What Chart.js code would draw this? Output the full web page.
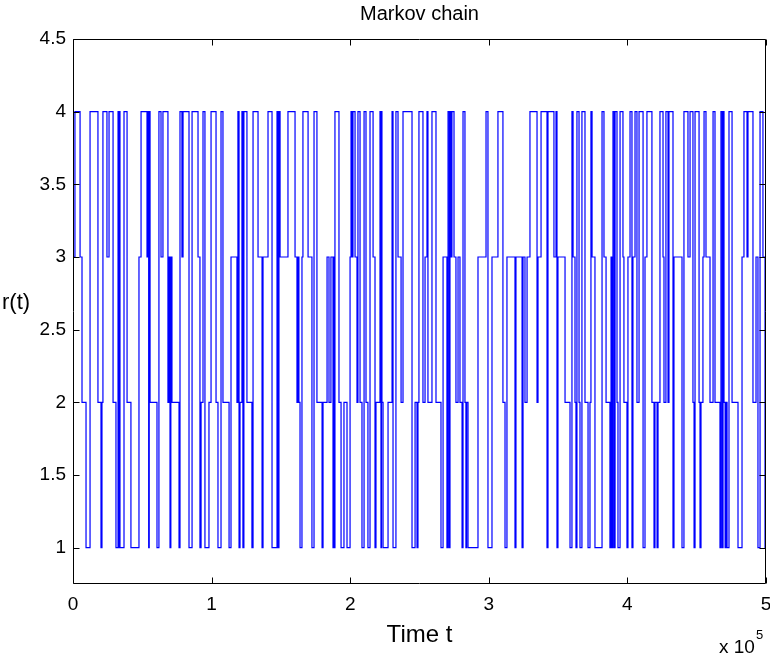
<!DOCTYPE html>
<html>
<head>
<meta charset="utf-8">
<script src="https://cdn.jsdelivr.net/npm/chart.js@4/dist/chart.umd.min.js"></script>
<style>
html,body{margin:0;padding:0;background:#fff;}
#wrap{width:770px;height:654px;position:relative;}
</style>
</head>
<body>
<div id="wrap"><canvas id="c" width="770" height="654"></canvas></div>
<script>
// Time instants (t) where the chain jumps, and the state entered at that instant
const times = [
0,1400,5100,6500,9400,12300,18000,20200,20900,21600,24500,26000,28900,31000,32500,32900,33200,33500,33900,36800,39000,41800,47600,49100,53400,54100,54600,55000,55600,60600,62000,63500,64900,68500,69300,70000,70600,71400,76500,77200,78600,79400,83700,
85900,90200,91600,92400,93800,95200,98100,99600,103200,104600,106800,108200,112600,114000,118300,119000,119800,120500,121900,122600,123300,125500,129100,129900,133500,136400,137100,140700,143600,147200,148000,148600,149400,155100,160200,161600,162300,163000,163800,
165200,165900,169600,172400,173900,176000,179700,180400,183300,184700,186100,187600,188200,188600,189000,191900,193400,195500,197700,199900,200600,201300,202000,203500,204900,205600,207100,208500,210000,211400,212800,214300,216500,217900,218600,221500,222200,222600,222900,223700,227300,230200,230900,233000,234500,236700,238100,244600,246800,248200,248900,
249600,252500,254000,255400,256100,259000,261900,265500,267000,269800,270600,271500,272000,272700,273400,274900,276300,277800,279200,280700,281400,282800,283500,284000,285000,292200,298000,299400,302300,306600,310200,311700,313100,318900,319600,324000,324700,326100,327600,329700,
334800,335500,337700,342000,342700,347000,348500,349200,349900,355000,358600,360000,360800,362200,362900,363600,365100,365800,367200,369400,371600,373000,373700,374500,376600,381700,383100,384600,387400,388200,388900,389600,390500,391100,392500,393200,394700,396800,397500,399700,400400,401900,403300,404000,405500,406900,408400,411300,412700,414100,
417700,419200,419900,421400,422100,423500,425700,426400,427800,429300,430000,432900,433600,439400,440800,443700,445200,447300,448100,448800,451700,452400,453100,454500,455300,456700,459600,461800,463200,466800,467500,468400,469000,469700,470500,471200,471900,473300,475500,479800,482700,484100,486300,487000,490600,492800,494200,495700,497800,499300,500000
];
const states = [
3,4,3,2,1,4,2,1,2,4,3,4,2,1,4,1,3,4,1,4,2,1,3,4,3,4,1,4,2,1,4,3,4,2,3,1,3,2,1,4,3,4,1,
4,3,1,2,4,1,2,4,2,1,4,2,1,3,2,4,1,2,4,1,4,2,1,4,3,1,3,4,1,4,1,4,3,4,3,2,3,2,1,
3,4,3,1,4,2,1,2,3,2,3,1,3,1,4,2,1,2,1,3,4,3,4,3,2,4,2,1,4,2,1,4,3,1,2,4,1,4,2,1,2,4,1,4,3,2,4,1,2,1,2,
4,2,3,4,2,4,2,1,3,1,4,1,4,3,4,3,2,3,2,1,4,2,1,2,1,3,4,1,3,4,2,1,3,1,3,1,3,2,3,4,
2,3,4,1,4,3,4,1,3,2,1,4,3,2,1,4,2,1,4,2,1,2,4,3,1,4,3,2,1,3,1,4,1,4,2,1,4,3,2,1,3,4,1,3,4,2,4,1,3,4,
2,1,2,1,2,4,3,2,4,2,4,1,3,1,4,3,4,2,1,4,2,1,2,3,4,3,2,4,2,1,4,1,4,2,1,2,1,4,2,1,3,4,3,4,2,3,1,4,3,1,1
];
const xTicks = [0,100000,200000,300000,400000,500000];
const xTickLabels = ['0','1','2','3','4','5'];
const yTicks = [1,1.5,2,2.5,3,3.5,4,4.5];
const yTickLabels = ['1','1.5','2','2.5','3','3.5','4','4.5'];
const titleText = 'Markov chain';
const xLabel = 'Time t';
const yLabel = 'r(t)';

const FONT = '"Liberation Sans", Arial, Helvetica, sans-serif';

const points = times.map((t,i)=>({x:t,y:states[i]}));

const framePlugin = {
  id:'frame',
  afterDraw(chart){
    const ctx = chart.ctx, a = chart.chartArea;
    const xs = chart.scales.x, ys = chart.scales.y;
    ctx.save();
    ctx.strokeStyle = '#000';
    ctx.lineWidth = 1;
    const L = Math.round(a.left)+0.5, R = Math.round(a.right)-0.5;
    const T = Math.round(a.top)+0.5, B = Math.round(a.bottom)-0.5;
    ctx.beginPath();
    ctx.rect(L,T,R-L,B-T);
    ctx.stroke();
    const tl = 6;
    ctx.beginPath();
    xTicks.forEach(v=>{
      const px = Math.round(xs.getPixelForValue(v))+0.5;
      ctx.moveTo(px,B); ctx.lineTo(px,B-tl);
      ctx.moveTo(px,T); ctx.lineTo(px,T+tl);
    });
    yTicks.forEach(v=>{
      const py = Math.round(ys.getPixelForValue(v))+0.5;
      ctx.moveTo(L,py); ctx.lineTo(L+tl,py);
      ctx.moveTo(R,py); ctx.lineTo(R-tl,py);
    });
    ctx.stroke();
    ctx.fillStyle = '#000';
    ctx.textAlign = 'center';
    ctx.textBaseline = 'alphabetic';
    ctx.font = '20px ' + FONT;
    ctx.fillText(titleText, (a.left+a.right)/2, 20);
    ctx.font = '24px ' + FONT;
    ctx.fillText(xLabel, (a.left+a.right)/2, 642);
    ctx.font = '22px ' + FONT;
    ctx.textAlign = 'left';
    ctx.fillText(yLabel, 2, 309);
    ctx.font = '19px ' + FONT;
    ctx.fillText('x 10', 719, 653);
    ctx.font = '13px ' + FONT;
    ctx.fillText('5', 756, 639);
    ctx.restore();
  }
};

new Chart(document.getElementById('c'), {
  type:'line',
  data:{datasets:[{
    data:points,
    borderColor:'#0000ff',
    borderWidth:1.2,
    pointRadius:0,
    stepped:true,
    tension:0,
    fill:false
  }]},
  options:{
    responsive:false,
    animation:false,
    devicePixelRatio:1,
    layout:{padding:{left:0,right:4,top:39,bottom:0}},
    plugins:{legend:{display:false},title:{display:false},tooltip:{enabled:false}},
    scales:{
      x:{
        type:'linear',min:0,max:500000,
        grid:{display:false,drawTicks:false},
        border:{display:false},
        afterBuildTicks(s){ s.ticks = xTicks.map(v=>({value:v})); },
        afterFit(s){ s.height = 70; s.paddingLeft = 0; s.paddingRight = 0; },
        ticks:{
          autoSkip:false,maxRotation:0,padding:9,color:'#000',
          font:{family:FONT,size:19},
          callback(v){ const i = xTicks.indexOf(v); return i>=0 ? xTickLabels[i] : ''; }
        }
      },
      y:{
        type:'linear',min:0.75,max:4.5,
        grid:{display:false,drawTicks:false},
        border:{display:false},
        afterBuildTicks(s){ s.ticks = yTicks.map(v=>({value:v})); },
        afterFit(s){ s.width = 73; s.paddingTop = 0; s.paddingBottom = 0; },
        ticks:{
          autoSkip:false,padding:7,color:'#000',
          font:{family:FONT,size:19},
          callback(v){ const i = yTicks.indexOf(v); return i>=0 ? yTickLabels[i] : ''; }
        }
      }
    }
  },
  plugins:[framePlugin]
});
</script>
</body>
</html>
